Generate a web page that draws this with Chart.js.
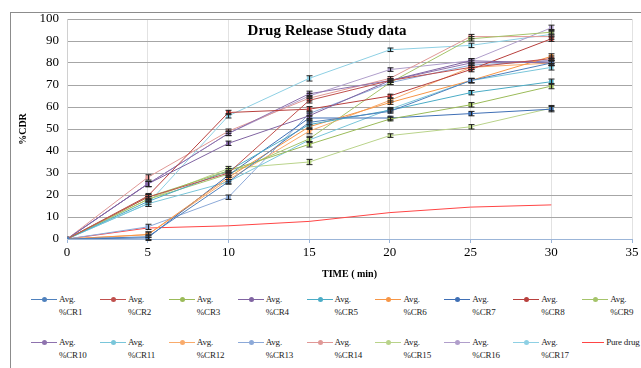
<!DOCTYPE html>
<html>
<head>
<meta charset="utf-8">
<script src="https://cdn.jsdelivr.net/npm/chart.js@4.4.0/dist/chart.umd.min.js"></script>
<style>
  body { margin: 0; background: #fff; }
  #frame { position: absolute; left: 10px; top: 12px; width: 640px; height: 370px; border-left: 1px solid #8c8c8c; border-top: 1px solid #8c8c8c; }
  #canvas_div { position: absolute; left: 0; top: 0; width: 641px; height: 280px; }
  #legend { position: absolute; left: 31px; top: 295px; width: 620px; font-family: "Liberation Serif", serif; font-size: 9px; color: #222; letter-spacing: -0.2px; }
  .row { display: flex; height: 43px; }
  .item { width: 69px; display: flex; align-items: flex-start; }
  .sw { width: 26px; height: 10px; position: relative; flex: none; margin-right: 2px; }
  .sw.short { width: 22px; }
  .sw .ln { position: absolute; left: 0; right: 0; top: 4px; height: 1px; }
  .sw .dt { position: absolute; left: 11px; top: 2px; width: 5px; height: 5px; border-radius: 50%; }
  .txt { line-height: 13px; margin-top: -2px; white-space: nowrap; }
</style>
</head>
<body>
<div id="frame"></div>
<div id="canvas_div"><canvas id="myChart" width="641" height="280"></canvas></div>
<div id="legend"></div>
<script>
const times = [0, 5, 10, 15, 20, 25, 30];

const cr1 = [0, 1, 26, 53, 58, 72, 80];
const cr2 = [0, 19, 30, 63, 72, 78, 82];
const cr3 = [0, 19, 31, 43, 54.5, 61, 69.5];
const cr4 = [0, 25, 43.5, 56, 72, 81, 80];
const cr5 = [0, 17, 31, 52, 58.5, 66.5, 71.5];
const cr6 = [0, 2, 28, 51, 62, 72, 83];
const cr7 = [0, 0.5, 29, 55, 55, 57, 59];
const cr8 = [0, 19.5, 57.5, 59, 65, 77, 91];
const cr9 = [0, 18, 29.5, 45.5, 71, 91, 94];
const cr10 = [0, 25, 48, 66, 72, 80, 81];
const cr11 = [0, 16, 26, 45, 59, 72, 78];
const cr12 = [0, 2, 27, 49, 63, 78, 80];
const cr13 = [0, 5.5, 19, 57, 71, 79, 81];
const cr14 = [0, 28, 49, 64, 73, 92, 92];
const cr15 = [0, 18, 32, 35, 47, 51, 59.5];
const cr16 = [0, 25, 48, 65, 77, 81, 96];
const cr17 = [0, 16, 56, 73, 86, 88, 93];
const pureDrug = [0, 5, 6, 8, 12, 14.5, 15.5];

// rough SD for the error caps
const sd = [0, 1.2, 1, 1.2, 0.8, 1, 1.2];

const seriesNames = ["Avg. %CR1", "Avg. %CR2", "Avg. %CR3", "Avg. %CR4", "Avg. %CR5", "Avg. %CR6",
  "Avg. %CR7", "Avg. %CR8", "Avg. %CR9", "Avg. %CR10", "Avg. %CR11", "Avg. %CR12",
  "Avg. %CR13", "Avg. %CR14", "Avg. %CR15", "Avg. %CR16", "Avg. %CR17", "Pure drug"];
const seriesData = [cr1, cr2, cr3, cr4, cr5, cr6, cr7, cr8, cr9, cr10, cr11, cr12, cr13, cr14, cr15, cr16, cr17, pureDrug];
const colors = ["#4F81BD", "#C0504D", "#9BBB59", "#8064A2", "#4BACC6", "#F79646",
  "#3F6FB5", "#B8403D", "#A5C46A", "#8E72AE", "#79C6DA", "#F9AB6B",
  "#8CA9D8", "#E09896", "#B9D38A", "#B09ECB", "#8ED0E4", "#FF4545"];

const serif = "'Liberation Serif', 'Times New Roman', serif";

const datasets = seriesData.map((vals, i) => {
  const isPure = i === seriesData.length - 1;
  return {
    label: seriesNames[i],
    data: vals.map((v, j) => ({ x: times[j], y: v })),
    borderColor: colors[i],
    backgroundColor: colors[i],
    borderWidth: 1,
    pointRadius: isPure ? 0 : 2.5,
    pointStyle: "rect",
    tension: 0,
    errBars: !isPure
  };
});

const errorBarPlugin = {
  id: "errorBars",
  afterDatasetsDraw(chart) {
    const ctx = chart.ctx;
    const xs = chart.scales.x, ys = chart.scales.y;
    ctx.save();
    ctx.strokeStyle = "#222";
    ctx.lineWidth = 1;
    chart.data.datasets.forEach((ds) => {
      if (!ds.errBars) return;
      ds.data.forEach((p, j) => {
        if (!sd[j]) return;
        const px = Math.round(xs.getPixelForValue(p.x)) + 0.5;
        const top = ys.getPixelForValue(p.y + sd[j]);
        const bot = ys.getPixelForValue(p.y - sd[j]);
        ctx.beginPath();
        ctx.moveTo(px, top); ctx.lineTo(px, bot);
        ctx.moveTo(px - 3, top); ctx.lineTo(px + 3, top);
        ctx.moveTo(px - 3, bot); ctx.lineTo(px + 3, bot);
        ctx.stroke();
      });
    });
    ctx.restore();
  }
};

const titlePlugin = {
  id: "innerTitle",
  afterDraw(chart) {
    const ctx = chart.ctx;
    ctx.save();
    ctx.font = "bold 15px " + serif;
    ctx.fillStyle = "#000";
    ctx.textAlign = "center";
    ctx.textBaseline = "middle";
    ctx.fillText("Drug Release Study data", 327, 31);
    ctx.restore();
  }
};

const config = {
  type: "line",
  data: { datasets: datasets },
  options: {
    responsive: false,
    animation: false,
    layout: { padding: { top: 19, right: 9, left: 17, bottom: 0 } },
    plugins: { legend: { display: false }, tooltip: { enabled: false } },
    scales: {
      x: {
        type: "linear",
        min: 0, max: 35,
        ticks: { stepSize: 5, color: "#000", font: { family: serif, size: 13 }, padding: 2 },
        grid: { color: "#e2e2e2", tickColor: "#9bb5d8", tickLength: 4 },
        border: { color: "#9bb5d8" },
        title: { display: true, text: "TIME ( min)", color: "#000", font: { family: serif, size: 10, weight: "bold" }, padding: 0 },
        afterFit: (s) => { s.height = 41; }
      },
      y: {
        min: 0, max: 100,
        ticks: { stepSize: 10, color: "#000", font: { family: serif, size: 13 }, padding: 8 },
        grid: { color: "#a6a6a6", drawTicks: false },
        border: { color: "#d0d0d0" },
        title: { display: true, text: "%CDR", color: "#000", font: { family: serif, size: 10, weight: "bold" }, padding: 0 },
        afterFit: (s) => { s.width = 50; }
      }
    }
  },
  plugins: [errorBarPlugin, titlePlugin]
};

const myChart = new Chart(document.getElementById("myChart"), config);

// html legend, two rows of nine
const legendDiv = document.getElementById("legend");
for (let r = 0; r < 2; r++) {
  const row = document.createElement("div");
  row.className = "row";
  for (let c = 0; c < 9; c++) {
    const i = r * 9 + c;
    const item = document.createElement("div");
    item.className = "item";
    const isPure = i === seriesNames.length - 1;
    const name = seriesNames[i];
    const text = isPure ? name : name.replace(" ", "<br>");
    item.innerHTML = `<div class="sw${isPure ? " short" : ""}"><div class="ln" style="background:${colors[i]}"></div>` +
      (isPure ? "" : `<div class="dt" style="background:${colors[i]}"></div>`) +
      `</div><div class="txt">${text}</div>`;
    row.appendChild(item);
  }
  legendDiv.appendChild(row);
}
</script>
</body>
</html>
